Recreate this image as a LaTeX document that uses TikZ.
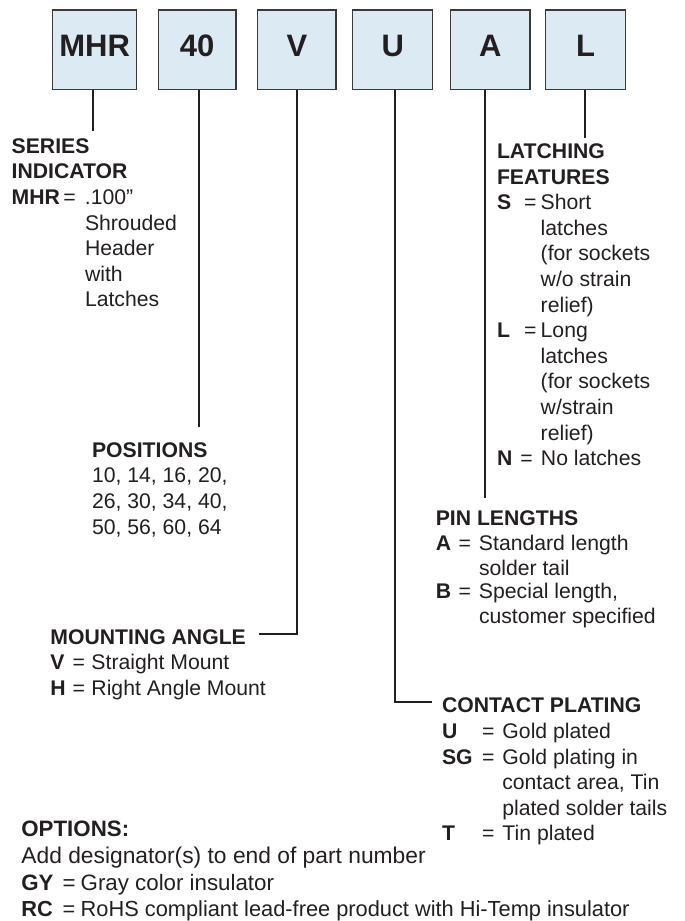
\documentclass[tikz,border=0pt]{standalone}
\usepackage{fontspec}
\setmainfont{Liberation Sans}
\definecolor{ink}{HTML}{231F20}
\definecolor{boxfill}{HTML}{DCEAF4}
\definecolor{boxline}{HTML}{3A3A3A}
\newcommand\kv[4]{\makebox[#2][l]{\textbf{#1}}\makebox[#3][l]{=}#4}
\tikzset{
  codebox/.style={draw=boxline, line width=1.2pt, fill=boxfill, minimum height=79.3pt,
    inner sep=0pt, text=ink, text height=22.6pt, text depth=8.5pt,
    font=\fontsize{31}{31}\selectfont\bfseries},
  lead/.style={draw=ink, line width=2pt, line join=miter},
  txt/.style={anchor=base west, inner sep=0pt, outer sep=0pt, text=ink,
    font=\fontsize{21.2}{25.6}\selectfont},
  optxt/.style={txt, font=\fontsize{22.3}{26.7}\selectfont},
}
\begin{document}
\begin{tikzpicture}[x=1pt,y=-1pt]
\path[use as bounding box] (0,0) rectangle (685,921);

% code boxes
\node[codebox, minimum width=84pt]   (mhr) at (94.7,49.65)   {MHR};
\node[codebox, minimum width=77.7pt] (pos) at (197.15,49.65) {40};
\node[codebox, minimum width=78.3pt] (ang) at (296.85,49.65) {V};
\node[codebox, minimum width=80pt]   (plt) at (392.7,49.65)  {U};
\node[codebox, minimum width=79.3pt] (pin) at (490.35,49.65) {A};
\node[codebox, minimum width=79.6pt] (lat) at (585.5,49.65)  {L};

% leader ends
\coordinate (mhrEnd) at (93,131);
\coordinate (posEnd) at (199,426.7);
\coordinate (angCorner) at (297,634);
\coordinate (angEnd) at (259,634);
\coordinate (pltCorner) at (395,701.7);
\coordinate (pltEnd) at (431.7,701.7);
\coordinate (pinEnd) at (485,498.3);
\coordinate (latEnd) at (585,138.3);

\draw[lead] (mhr.south -| mhrEnd) -- (mhrEnd);
\draw[lead] (pos.south -| posEnd) -- (posEnd);
\draw[lead] (ang.south -| angCorner) -- (angCorner) -- (angEnd);
\draw[lead] (plt.south -| pltCorner) -- (pltCorner) -- (pltEnd);
\draw[lead] (pin.south -| pinEnd) -- (pinEnd);
\draw[lead] (lat.south -| latEnd) -- (latEnd);

% series indicator
\node[txt] (s1) at (11.7,153.3) {\textbf{SERIES}};
\node[txt] (s2) at (11.7,178.9) {\textbf{INDICATOR}};
\node[txt] (s3) at (11.7,204.5) {\kv{MHR}{51.6pt}{21.7pt}{.100”}};
\node[txt] (s4) at (85,230.1) {Shrouded};
\node[txt] (s5) at (85,255.7) {Header};
\node[txt] (s6) at (85,281.3) {with};
\node[txt] (s7) at (85,306.9) {Latches};

% positions
\node[txt] (p1) at (92,457.3) {\textbf{POSITIONS}};
\node[txt] (p2) at (92,482.9) {10, 14, 16, 20,};
\node[txt] (p3) at (92,508.5) {26, 30, 34, 40,};
\node[txt] (p4) at (92,534.1) {50, 56, 60, 64};

% mounting angle
\node[txt] (m1) at (50.4,644) {\textbf{MOUNTING ANGLE}};
\node[txt] (m2) at (50.4,669.5) {\kv{V}{22.3pt}{18.8pt}{Straight Mount}};
\node[txt] (m3) at (50.4,695) {\kv{H}{22.3pt}{18.8pt}{Right Angle Mount}};

% latching features
\node[txt] (l1) at (497,158.5) {\textbf{LATCHING}};
\node[txt] (l2) at (497,184.1) {\textbf{FEATURES}};
\node[txt] (l3) at (497,209.7) {\kv{S}{27pt}{16.7pt}{Short}};
\node[txt] (l4) at (540.7,235.3) {latches};
\node[txt] (l5) at (540.7,260.9) {(for sockets};
\node[txt] (l6) at (540.7,286.5) {w/o strain};
\node[txt] (l7) at (540.7,312.1) {relief)};
\node[txt] (l8) at (497,337.7) {\kv{L}{27pt}{16.7pt}{Long}};
\node[txt] (l9) at (540.7,363.3) {latches};
\node[txt] (l10) at (540.7,388.9) {(for sockets};
\node[txt] (l11) at (540.7,414.5) {w/strain};
\node[txt] (l12) at (540.7,440.1) {relief)};
\node[txt] (l13) at (497,465.7) {\kv{N}{23.4pt}{20.6pt}{No latches}};

% pin lengths
\node[txt] (n1) at (435.8,525) {\textbf{PIN LENGTHS}};
\node[txt] (n2) at (435.8,550.5) {\kv{A}{22.9pt}{20.3pt}{Standard length}};
\node[txt] (n3) at (479,575.5) {solder tail};
\node[txt] (n4) at (435.8,598) {\kv{B}{22.9pt}{20.3pt}{Special length,}};
\node[txt] (n5) at (479,623) {customer specified};

% contact plating
\node[txt] (c1) at (442,712.7) {\textbf{CONTACT PLATING}};
\node[txt] (c2) at (442,738.3) {\kv{U}{40.2pt}{20.3pt}{Gold plated}};
\node[txt] (c3) at (442,764.5) {\kv{SG}{40.2pt}{20.3pt}{Gold plating in}};
\node[txt] (c4) at (502.3,789.5) {contact area, Tin};
\node[txt] (c5) at (502.3,815) {plated solder tails};
\node[txt] (c6) at (442,840.5) {\kv{T}{40.2pt}{20.3pt}{Tin plated}};

% options
\node[optxt] (o1) at (21.4,836.7) {\textbf{OPTIONS:}};
\node[optxt, font=\fontsize{22.8}{26.7}\selectfont] (o2) at (21.4,863.3) {Add designator(s) to end of part number};
\node[optxt] (o3) at (21.4,890) {\kv{GY}{41.3pt}{18pt}{Gray color insulator}};
\node[optxt, font=\fontsize{21.8}{26.7}\selectfont] (o4) at (21.4,916.7) {\kv{RC}{41.3pt}{18pt}{RoHS compliant lead-free product with Hi-Temp insulator}};
\end{tikzpicture}
\end{document}
